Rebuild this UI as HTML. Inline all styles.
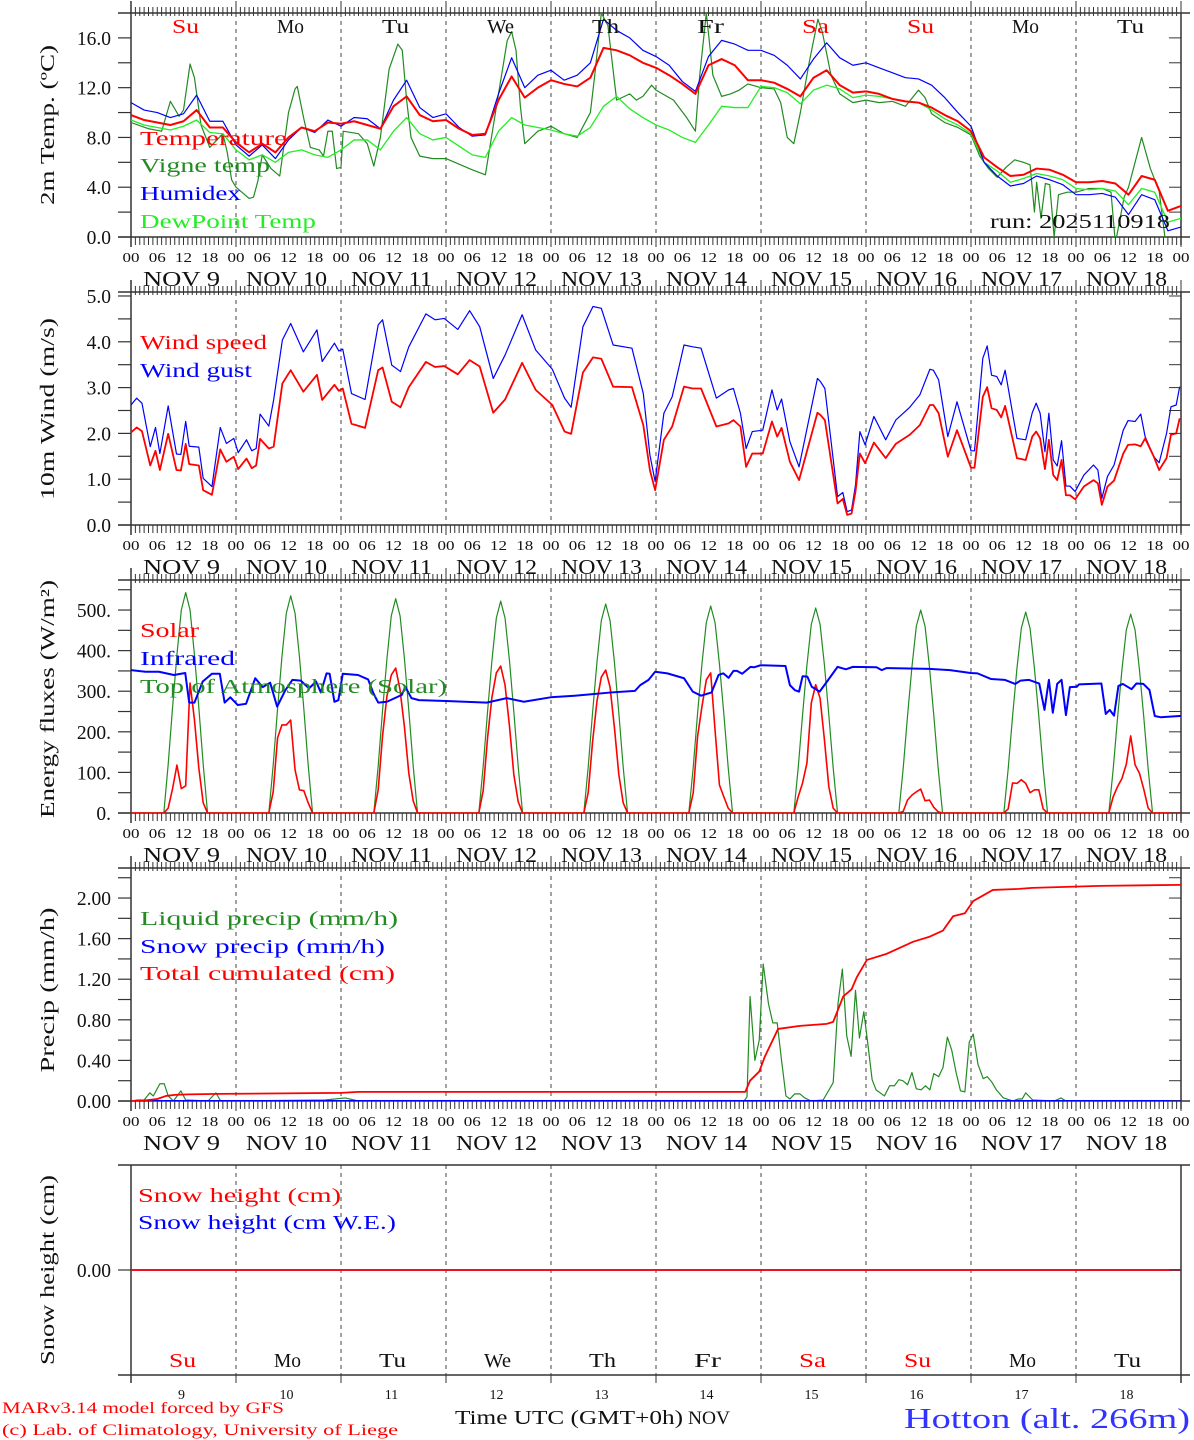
<!DOCTYPE html>
<html><head><meta charset="utf-8"><title>MAR forecast Hotton</title>
<style>
html,body{margin:0;padding:0;background:#fff;}
svg{display:block;font-family:"Liberation Serif",serif;}
</style></head>
<body>
<svg id="chart" xmlns="http://www.w3.org/2000/svg" width="1194" height="1440" viewBox="0 0 1194 1440">
<rect x="0" y="0" width="1194" height="1440" fill="#fff"/>
<g id="axes"></g>
<g id="marks"></g>
<g id="labels"></g>

<g font-size="20">
<text x="140" y="145" fill="#ff0000" textLength="147" lengthAdjust="spacingAndGlyphs">Temperature</text>
<text x="140" y="172" fill="#228b22" textLength="130" lengthAdjust="spacingAndGlyphs">Vigne temp</text>
<text x="140" y="200" fill="#0000ff" textLength="101" lengthAdjust="spacingAndGlyphs">Humidex</text>
<text x="140" y="228" fill="#22ee22" textLength="176" lengthAdjust="spacingAndGlyphs">DewPoint Temp</text>
<text x="990" y="228" fill="#111" textLength="180" lengthAdjust="spacingAndGlyphs">run: 2025110918</text>
</g>
<g font-size="20">
<text x="140" y="349" fill="#ff0000" textLength="127" lengthAdjust="spacingAndGlyphs">Wind speed</text>
<text x="140" y="377" fill="#0000ff" textLength="112" lengthAdjust="spacingAndGlyphs">Wind gust</text>
</g>
<g font-size="20">
<text x="140" y="637" fill="#ff0000" textLength="59" lengthAdjust="spacingAndGlyphs">Solar</text>
<text x="140" y="665" fill="#0000ff" textLength="95" lengthAdjust="spacingAndGlyphs">Infrared</text>
<text x="140" y="693" fill="#228b22" textLength="307" lengthAdjust="spacingAndGlyphs">Top of Atmosphere (Solar)</text>
</g>
<g font-size="20">
<text x="140" y="925" fill="#228b22" textLength="258" lengthAdjust="spacingAndGlyphs">Liquid precip (mm/h)</text>
<text x="140" y="953" fill="#0000ff" textLength="245" lengthAdjust="spacingAndGlyphs">Snow precip (mm/h)</text>
<text x="140" y="980" fill="#ff0000" textLength="255" lengthAdjust="spacingAndGlyphs">Total cumulated (cm)</text>
</g>
<g font-size="20">
<text x="138" y="1202" fill="#ff0000" textLength="203" lengthAdjust="spacingAndGlyphs">Snow height (cm)</text>
<text x="138" y="1229" fill="#0000ff" textLength="258" lengthAdjust="spacingAndGlyphs">Snow height (cm W.E.)</text>
</g>

<g font-size="20" fill="#111">
<text transform="translate(54,125) rotate(-90)" text-anchor="middle" textLength="160" lengthAdjust="spacingAndGlyphs">2m Temp. (ºC)</text>
<text transform="translate(54,409) rotate(-90)" text-anchor="middle" textLength="182" lengthAdjust="spacingAndGlyphs">10m Wind (m/s)</text>
<text transform="translate(54,699) rotate(-90)" text-anchor="middle" textLength="238" lengthAdjust="spacingAndGlyphs">Energy fluxes (W/m²)</text>
<text transform="translate(54,990) rotate(-90)" text-anchor="middle" textLength="165" lengthAdjust="spacingAndGlyphs">Precip (mm/h)</text>
<text transform="translate(54,1270) rotate(-90)" text-anchor="middle" textLength="190" lengthAdjust="spacingAndGlyphs">Snow height (cm)</text>
</g>

<text x="2" y="1413" font-size="16" fill="#ff0000" textLength="282" lengthAdjust="spacingAndGlyphs">MARv3.14 model forced by GFS</text>
<text x="2" y="1435" font-size="16" fill="#ff0000" textLength="396" lengthAdjust="spacingAndGlyphs">(c) Lab. of Climatology, University of Liege</text>
<text x="455" y="1424" font-size="20" fill="#111" textLength="228" lengthAdjust="spacingAndGlyphs">Time UTC (GMT+0h)</text>
<text x="688" y="1424" font-size="19" fill="#111" textLength="42" lengthAdjust="spacingAndGlyphs">NOV</text>
<text x="904" y="1428" font-size="28" fill="#3333ff" textLength="286" lengthAdjust="spacingAndGlyphs">Hotton (alt. 266m)</text>
</svg>

<script>
// ---------- DATA ----------
const dayNames = ["Su","Mo","Tu","We","Th","Fr","Sa","Su","Mo","Tu"];
const dayNumbers = ["9","10","11","12","13","14","15","16","17","18"];
const hourTickLabels = ["00","06","12","18"];
const tempTickLabels = ["0.0","4.0","8.0","12.0","16.0"];
const windTickLabels = ["0.0","1.0","2.0","3.0","4.0","5.0"];
const energyTickLabels = ["0.","100.","200.","300.","400.","500."];
const precipTickLabels = ["0.00","0.40","0.80","1.20","1.60","2.00"];
const snowTickLabels = ["0.00"];

const tempHours = [0,3,6,9,12,15,18,21,24,27,30,33,36,39,42,45,48,51,54,57,60,63,66,69,72,75,78,81,84,87,90,93,96,99,102,105,108,111,114,117,120,123,126,129,132,135,138,141,144,147,150,153,156,159,162,165,168,171,174,177,180,183,186,189,192,195,198,201,204,207,210,213,216,219,222,225,228,231,234,237,240];
const temperature = [9.8,9.4,9.2,9.0,9.3,10.2,8.8,8.8,7.6,
6.8,7.5,6.8,8.0,8.8,8.5,9.2,9.1,
9.3,9.0,8.7,10.5,11.3,9.8,9.3,9.4,
8.7,8.2,8.3,11.0,12.9,11.2,12.0,12.6,
12.3,12.1,12.8,15.2,15.0,14.6,14.0,13.6,
13.0,12.3,11.5,13.8,14.3,13.8,12.6,12.6,
12.4,11.9,11.3,12.8,13.4,12.2,11.6,11.7,
11.5,11.1,10.9,10.8,10.4,9.8,9.3,8.5,
6.4,5.6,4.9,5.0,5.5,5.4,5.0,4.4,
4.4,4.5,4.3,3.4,4.9,4.6,2.1,2.5];
const humidex = [10.8,10.2,10.0,9.6,9.9,11.4,9.3,9.3,7.4,
6.5,7.4,6.3,7.8,8.8,8.4,9.4,8.9,
9.6,9.5,8.7,11.0,12.6,10.4,9.6,9.9,
8.8,8.1,8.2,11.5,14.4,12.0,13.0,13.4,
12.6,13.0,14.0,17.5,16.6,16.0,15.0,14.5,
13.8,12.5,11.7,14.5,15.8,15.5,15.0,15.0,
14.6,13.8,12.7,14.3,15.6,14.4,13.8,14.0,
13.6,13.2,12.8,12.7,12.2,11.2,10.0,8.9,
6.0,4.9,4.1,4.3,4.9,4.6,4.2,3.4,
3.4,3.5,3.2,1.8,3.4,3.0,0.5,0.8];
const dewpoint = [9.4,9.0,8.8,8.6,8.9,9.4,8.4,8.3,7.0,
6.2,6.6,6.0,6.8,7.0,6.6,6.4,7.0,
7.8,7.8,7.0,8.5,9.6,8.3,7.8,8.0,
7.3,6.6,6.4,8.5,9.6,9.0,8.8,8.6,
8.3,8.1,8.8,10.5,11.3,10.3,9.6,9.0,
8.6,8.0,7.6,9.0,10.5,10.4,10.4,12.1,
12.0,11.6,10.7,11.8,12.2,11.9,11.2,11.4,
11.3,11.1,10.9,10.8,10.2,9.5,9.0,8.3,
6.0,5.3,4.4,4.7,5.1,4.9,4.6,3.9,
3.8,3.9,3.7,2.6,3.9,3.6,1.2,1.5];
const vigneHours = [0,4,7,9,11,12,13.5,14.5,16,18,21,22,23,24,26,27,28,29,30,32,34,36,37.5,38,39.5,41,43,44,45,46,47,48,48.5,52,54,55.5,57,59,61,62,63,64,66,69,72,78,81,84,86,87,88,89,90,93,96,99,102,105,106,107.5,109,111,114,115.5,117,119,120,124,127,129,130,131.5,133,135,137,139,141,144,147,148.5,150,151.5,153,155,157,158,160,162,165,168,171,174,177,180,181.5,183,186,189,192,194,196,198,200,202,204,205.5,206.5,207,208,209,210,211,212,214,216,219,222,224,225,227,228,231,233,235,236.5,240];
const vigneTemp = [9.2,8.7,8.5,10.9,9.7,10.2,13.9,12.8,9.0,7.2,8.3,6.8,4.6,4.0,3.4,3.1,3.2,4.5,6.6,5.5,4.9,10.0,11.9,12.1,9.5,7.2,7.0,6.5,8.5,8.5,5.5,5.6,8.5,8.3,7.5,5.7,8.0,13.5,15.5,15.0,11.0,8.0,6.5,6.3,6.3,5.4,5.0,11.5,15.8,16.5,15.0,10.5,7.5,8.5,8.9,8.3,8.0,10.0,13.0,18.0,17.0,11.0,11.5,11.0,11.3,12.2,11.8,11.0,9.6,8.5,13.0,18.0,13.0,11.3,11.5,11.8,12.3,12.0,11.9,10.8,8.0,7.5,10.0,14.0,17.5,16.5,13.0,11.5,10.8,11.0,10.8,10.9,10.5,11.8,11.2,9.9,9.2,8.8,8.2,6.5,5.5,4.8,5.6,6.2,6.0,5.8,2.0,4.4,1.5,4.3,4.2,0.0,3.4,3.6,3.6,3.9,3.9,3.6,-0.5,3.2,4.0,8.0,5.5,3.7,-0.5,0.0];

const windHours = [0,1.3,2.5,4.4,5.6,6.6,8.5,10.4,11.4,12.5,13.3,15.5,16.5,18.5,20.4,21.8,23.5,24.5,26.4,27.6,28.6,29.5,31.5,32.6,34.6,36.5,39.4,42.5,43.7,46.5,47.5,48.4,50.4,53.5,56.5,57.5,59.6,61.6,63.5,67.4,69.5,71.6,74.7,77.4,79.7,82.8,85.5,89.4,92.5,96.3,99.1,100.6,103.3,105.6,107.5,110.2,114.5,117.1,
118.6,119.8,121.8,123.7,126.4,128.4,130.3,133.8,136.6,137.7,139.3,140.6,142.0,144.4,146.5,147.7,148.7,150.6,152.7,156.9,157.6,158.6,161.5,162.7,163.7,164.7,165.6,166.6,167.8,169.8,172.5,174.8,178.0,180.3,182.6,183.4,184.6,186.7,188.8,192.0,192.8,194.7,195.7,196.7,197.9,198.9,199.8,202.5,204.5,206.0,206.9,207.8,208.9,209.8,210.8,211.7,212.7,213.7,214.6,215.8,217.8,220.0,221.0,221.9,223.2,224.7,226.8,227.9,229.5,230.8,231.8,233.8,235.0,236.7,237.7,238.9,239.7];
const windSpeed = [2.02,2.13,2.05,1.30,1.62,1.20,1.99,1.20,1.19,1.77,1.33,1.30,0.76,0.66,1.65,1.38,1.49,1.22,1.45,1.24,1.30,1.88,1.67,1.71,3.09,3.38,2.91,3.28,2.73,3.06,2.93,2.98,2.21,2.12,3.38,3.44,2.69,2.57,3.01,3.56,3.45,3.47,3.29,3.60,3.46,2.45,2.74,3.54,2.95,2.62,2.04,1.99,3.33,3.66,3.63,3.02,3.01,2.18,
1.20,0.76,1.86,2.15,3.02,2.98,2.98,2.15,2.22,2.29,2.15,1.27,1.56,1.56,2.26,1.93,2.12,1.38,0.98,2.45,2.40,2.29,0.47,0.57,0.22,0.25,0.73,1.56,1.35,1.80,1.46,1.77,1.97,2.18,2.62,2.62,2.44,1.49,2.07,1.25,1.25,2.80,3.01,2.55,2.51,2.35,2.60,1.46,1.42,1.93,2.04,1.89,1.22,1.86,1.09,0.98,1.42,0.65,0.65,0.56,0.84,0.98,0.91,0.44,0.84,0.97,1.56,1.75,1.76,1.72,1.89,1.49,1.20,1.46,1.97,2.00,2.33];
const windGust = [2.62,2.77,2.66,1.71,2.13,1.56,2.60,1.55,1.54,2.26,1.72,1.70,1.02,0.84,2.13,1.78,1.89,1.58,1.86,1.62,1.67,2.42,2.16,2.73,4.04,4.40,3.78,4.26,3.57,3.97,3.80,3.84,2.87,2.74,4.37,4.48,3.49,3.35,3.89,4.61,4.48,4.51,4.27,4.68,4.33,3.20,3.71,4.59,3.82,3.40,2.77,2.57,4.33,4.77,4.73,3.93,3.86,2.87,
1.53,0.95,2.44,2.80,3.93,3.89,3.86,2.77,2.95,2.98,2.44,1.67,2.04,2.07,2.95,2.51,2.75,1.82,1.27,3.20,3.13,2.98,0.62,0.71,0.29,0.33,0.87,2.04,1.75,2.37,1.86,2.29,2.57,2.84,3.40,3.38,3.17,1.93,2.69,1.62,1.62,3.64,3.91,3.27,3.24,3.06,3.38,1.89,1.86,2.45,2.66,2.44,1.60,2.44,1.42,1.29,1.84,0.85,0.85,0.73,1.09,1.31,1.20,0.58,1.06,1.31,2.07,2.28,2.26,2.42,1.93,1.49,1.36,2.00,2.58,2.62,3.02];

const sunHours = [7.5,8.5,9.5,10.5,11.5,12.5,13.5,14.5,15.5,16.5,17.5];
const solarDays = [
[0,12,60,118,60,67,320,230,111,25,0],
[0,52,185,217,217,229,106,57,55,25,0],
[0,57,190,288,340,357,303,212,98,30,0],
[0,55,185,285,345,362,315,215,95,28,0],
[0,50,175,275,335,352,310,210,95,25,0],
[0,49,188,262,328,345,204,69,40,12,0],
[0,40,74,123,271,316,283,180,65,12,0],
[0,4,32,44,52,59,30,32,14,3,0],
[0,10,74,73,82,73,50,57,57,10,0],
[0,40,65,85,120,190,119,98,58,12,0]];
const toaDays = [
[0,120,260,390,500,543,500,390,260,120,0],
[0,118,257,385,492,535,492,385,257,118,0],
[0,116,253,380,486,528,486,380,253,116,0],
[0,115,250,376,480,522,480,376,250,115,0],
[0,113,247,371,474,515,474,371,247,113,0],
[0,112,245,367,469,510,469,367,245,112,0],
[0,111,242,364,465,505,465,364,242,111,0],
[0,110,240,360,460,500,460,360,240,110,0],
[0,109,238,356,455,495,455,356,238,109,0],
[0,108,235,353,451,490,451,353,235,108,0]];
const irHours = [0,3.3,6.4,9.8,12.4,13.3,14.5,16.4,18.5,20.3,21.4,22.7,24.4,26.3,28.4,30.1,31.8,33.4,35.3,36.9,38.8,40.7,42.3,43.4,44.7,45.4,46.5,47.4,48.4,51.9,54.2,55.4,56.5,58.5,61.9,62.7,64.1,65.8,72,81.3,85.9,89.8,95.9,101.4,109.8,115.2,116.4,118.3,
119.8,122.6,126.4,128.4,130.3,132.7,134.3,135.4,136.6,137.7,138.5,139.7,141.6,142.4,143.9,149.6,150.6,151.7,152.7,153.5,154.6,155.6,157.4,159.1,161.5,163.4,165,170.4,171.6,172.7,182.5,187.2,191.9,193.5,196.6,199.7,202.1,203.3,205.2,207.6,208.8,209.8,210.7,211.7,212.7,213.7,214.6,216.2,216.7,221.8,222.8,223.7,224.7,225.7,226.7,228.7,229.8,231.4,232.8,234,235.3,239.7,240];
const infrared = [352,348,348,340,345,272,272,324,343,343,272,285,266,269,332,310,321,262,303,328,326,307,324,297,344,343,274,278,343,340,329,295,272,274,291,311,283,278,276,272,283,274,285,289,297,301,315,328,
348,344,332,299,289,297,340,344,333,350,350,343,360,359,364,362,315,303,299,337,336,311,299,324,360,354,360,359,352,357,355,352,345,344,330,328,318,326,328,319,254,328,247,318,328,241,310,311,317,319,244,254,240,313,318,305,319,318,303,239,236,239,239];

const cumHours = [0,3,6,8,10,13,20,48,52,140.4,141.5,143.6,144.9,147.9,152.9,159,160.5,162.8,164.7,165.9,168.2,172.7,178.8,182.6,185.6,187.9,190.6,192.5,197,203,206,221.5,240];
const cumPrecip = [0,0.005,0.02,0.05,0.06,0.065,0.07,0.08,0.09,0.09,0.20,0.29,0.44,0.71,0.74,0.76,0.78,1.03,1.10,1.22,1.39,1.45,1.57,1.62,1.68,1.82,1.85,1.97,2.08,2.09,2.10,2.12,2.13];
const liqHours = [0,1.5,3,4.3,5.1,6.6,7.6,8.5,9.7,11.4,12.5,17.6,19.4,20.5,44.4,48.9,52,140.1,140.8,141.5,142.6,143.6,144.5,145.7,146.7,147.7,148.7,149.7,150.6,151.7,152.9,154,155.5,158.2,160.5,161.6,162.6,163.6,164.6,165.6,166.5,167.5,168.4,169.4,170.3,172.2,173.4,174.5,175.5,176.4,177.5,178.5,179.5,180.6,181.6,182.6,183.5,184.6,185.6,186.6,187.6,188.6,189.6,190.6,191.6,192.5,193.6,194.8,195.7,196.7,197.8,199.4,201.6,202.8,203.7,204.5,206.1,211,212.6,213.7,240];
const liquidPrecip = [0,0.01,0.01,0.08,0.05,0.17,0.17,0.05,0,0.10,0.01,0,0.08,0,0.01,0.03,0,0,0.04,1.03,0.40,0.60,1.35,0.96,0.77,0.77,0.40,0.05,0.02,0.07,0.07,0.03,0,0.01,0.18,0.96,1.30,0.64,0.44,1.09,0.62,0.88,0.57,0.21,0.11,0.05,0.15,0.15,0.21,0.20,0.16,0.28,0.12,0.11,0.15,0.11,0.27,0.24,0.33,0.63,0.50,0.28,0.10,0.09,0.58,0.66,0.36,0.22,0.24,0.19,0.11,0.03,0,0.02,0.02,0.08,0.01,0,0.03,0,0];
const snowHours = [0,240];
const snowPrecip = [0,0];
const snowHeight = [0,0];
const snowHeightWE = [0,0];

// ---------- LAYOUT ----------
const NS = "http://www.w3.org/2000/svg";
const X0 = 131, X1 = 1181;
function xs(h){ return X0 + h*(X1-X0)/240; }
const panels = {
  temp:   {top:13,  bottom:237,  min:0,  max:18.0},
  wind:   {top:292, bottom:525,  min:0,  max:5.087},
  energy: {top:580, bottom:813,  min:0,  max:574},
  precip: {top:868, bottom:1101, min:0,  max:2.296},
  snow:   {top:1165,bottom:1375, min:-1, max:1}
};
function ys(p, v){ return p.bottom - (v - p.min)/(p.max - p.min)*(p.bottom - p.top); }

const axesG = document.getElementById('axes');
const marksG = document.getElementById('marks');
const labelsG = document.getElementById('labels');
const svg = document.getElementById('chart');

function mk(tag, parent){ const e = document.createElementNS(NS, tag); parent.appendChild(e); return e; }
function seg(parent, x1,y1,x2,y2, stroke, w, dash){
  const l = mk('line', parent);
  l.setAttribute('x1',x1); l.setAttribute('y1',y1); l.setAttribute('x2',x2); l.setAttribute('y2',y2);
  l.setAttribute('stroke',stroke); l.setAttribute('stroke-width',w);
  if(dash) l.setAttribute('stroke-dasharray',dash);
  return l;
}
function txt(parent, x, y, s, size, fill, anchor, len){
  const t = mk('text', parent);
  t.setAttribute('x',x); t.setAttribute('y',y);
  t.setAttribute('font-size',size); t.setAttribute('fill',fill);
  t.setAttribute('text-anchor',anchor||'start');
  t.setAttribute('xml:space','preserve');
  if(len){ t.setAttribute('textLength',len); t.setAttribute('lengthAdjust','spacingAndGlyphs'); }
  t.textContent = s;
  return t;
}

const defs = mk('defs', svg);
Object.keys(panels).forEach(k=>{
  const p = panels[k];
  const cp = mk('clipPath', defs); cp.setAttribute('id','clip-'+k);
  const r = mk('rect', cp);
  r.setAttribute('x',X0); r.setAttribute('y',p.top); r.setAttribute('width',X1-X0); r.setAttribute('height',p.bottom-p.top);
});

const FRAME = '#333';
Object.keys(panels).forEach(k=>{
  const p = panels[k];
  const g = mk('g', axesG);
  
  
  for(let d=1; d<10; d++){
    const dl = seg(g, xs(d*24), p.top, xs(d*24), p.bottom, '#444', 1, '4,4');
    
    
  }
  seg(g, 118, p.top, 1190, p.top, FRAME, 1.5);
  seg(g, 118, p.bottom, 1190, p.bottom, FRAME, 1.5);
  seg(g, X0, p.top - (k==='snow'?0:12), X0, p.bottom + (k==='snow'?8:10), FRAME, 1.5);
  seg(g, X1, p.top, X1, p.bottom + 8, FRAME, 1.5);
  if(k !== 'snow'){
    for(let h=0; h<=240; h++){
      const xx = xs(h);
      const major = (h % 24 === 0);
      seg(g, xx, p.top - (major?12:6), xx, p.top + 3, FRAME, 1);
      seg(g, xx, p.bottom, xx, p.bottom + (major?10:8), FRAME, 1);
    }
  } else {
    for(let d=1; d<10; d++) seg(g, xs(d*24), p.bottom, xs(d*24), p.bottom+8, FRAME, 1);
  }
});

function yAxis(p, labels, step, minorStep, name){
  const g = mk('g', labelsG);
  
  
  labels.forEach((lab, i)=>{
    const v = parseFloat(lab);
    const yy = ys(p, v);
    seg(g, 118, yy, X0, yy, FRAME, 1.2);
    seg(g, X1-12, yy, X1, yy, FRAME, 1);
    const t = txt(g, 111, yy+7, lab, 19.5, '#111', 'end');
    
    
  });
  if(minorStep){
    for(let v = p.min + minorStep; v < p.max; v += step){
      const yy = ys(p, v);
      seg(g, 118, yy, X0, yy, FRAME, 1.2);
      seg(g, X1-12, yy, X1, yy, FRAME, 1);
    }
  }
}
yAxis(panels.temp, tempTickLabels, 4, 2, 'y-axis-temp');
yAxis(panels.wind, windTickLabels, 1, 0.5, 'y-axis-wind');
yAxis(panels.energy, energyTickLabels, 100, 50, 'y-axis-energy');
yAxis(panels.precip, precipTickLabels, 0.4, 0.2, 'y-axis-precip');
yAxis(panels.snow, snowTickLabels, 1, 0, 'y-axis-snow');

['temp','wind','energy','precip'].forEach(k=>{
  const p = panels[k];
  const g = mk('g', labelsG);
  
  
  for(let h=0; h<=240; h+=6){
    const t = txt(g, xs(h), p.bottom+25, hourTickLabels[(h/6)%4], 14, '#111', 'middle', 17);
    
    
  }
  dayNumbers.forEach((dn, d)=>{
    const s = dn.length === 1 ? 'NOV  '+dn : 'NOV '+dn;
    const t = txt(g, xs(d*24+12)-2, p.bottom+49, s, 21, '#111', 'middle', dn.length===1?77:81);
    
    
  });
});
dayNames.forEach((dn, d)=>{
  const col = (dn==='Su'||dn==='Sa') ? '#ff0000' : '#111';
  const t1 = txt(labelsG, xs(d*24+12)+2, 33, dn, 20, col, 'middle', 27);
  
  
  const t2 = txt(labelsG, xs(d*24+12)-1, 1367, dn, 20, col, 'middle', 27);
  
  
  const t3 = txt(labelsG, xs(d*24+12)-2, 1399, dayNumbers[d], 14, '#111', 'middle');
  
  
});

// ---------- MARKS ----------
function series(pk, hours, vals, color, width, name){
  const p = panels[pk];
  let d = '';
  for(let i=0; i<hours.length; i++){
    d += (i? 'L':'M') + xs(hours[i]).toFixed(2) + ',' + ys(p, vals[i]).toFixed(2);
  }
  const path = mk('path', marksG);
  path.setAttribute('d', d);
  path.setAttribute('fill', 'none');
  path.setAttribute('stroke', color);
  path.setAttribute('stroke-width', width);
  path.setAttribute('stroke-linejoin', 'round');
  path.setAttribute('clip-path', 'url(#clip-'+pk+')');
  
  
  return path;
}
function dailyHours(){ const hs=[0]; for(let d=0; d<10; d++) sunHours.forEach(s=>hs.push(d*24+s)); hs.push(240); return hs; }
function dailyVals(arr){ const vs=[0]; arr.forEach(day=>day.forEach(v=>vs.push(v))); vs.push(0); return vs; }

series('temp', vigneHours, vigneTemp, '#228b22', 1.2, 'vigne-temp-line');
series('temp', tempHours, dewpoint, '#22ee22', 1.3, 'dewpoint-line');
series('temp', tempHours, humidex, '#0000ff', 1.2, 'humidex-line');
series('temp', tempHours, temperature, '#ff0000', 2, 'temperature-line');

series('wind', windHours, windGust, '#0000ff', 1.2, 'wind-gust-line');
series('wind', windHours, windSpeed, '#ff0000', 1.8, 'wind-speed-line');

series('energy', dailyHours(), dailyVals(toaDays), '#228b22', 1.2, 'toa-solar-line');
series('energy', dailyHours(), dailyVals(solarDays), '#ff0000', 1.6, 'solar-line');
series('energy', irHours, infrared, '#0000ff', 2, 'infrared-line');

series('precip', liqHours, liquidPrecip, '#228b22', 1.2, 'liquid-precip-line');
series('precip', snowHours, snowPrecip, '#0000ff', 2, 'snow-precip-line');
series('precip', cumHours, cumPrecip, '#ff0000', 1.8, 'total-cumulated-line');

series('snow', snowHours, snowHeightWE, '#0000ff', 1.5, 'snow-height-we-line');
series('snow', snowHours, snowHeight, '#ff0000', 1.8, 'snow-height-line');
</script>
</body></html>
